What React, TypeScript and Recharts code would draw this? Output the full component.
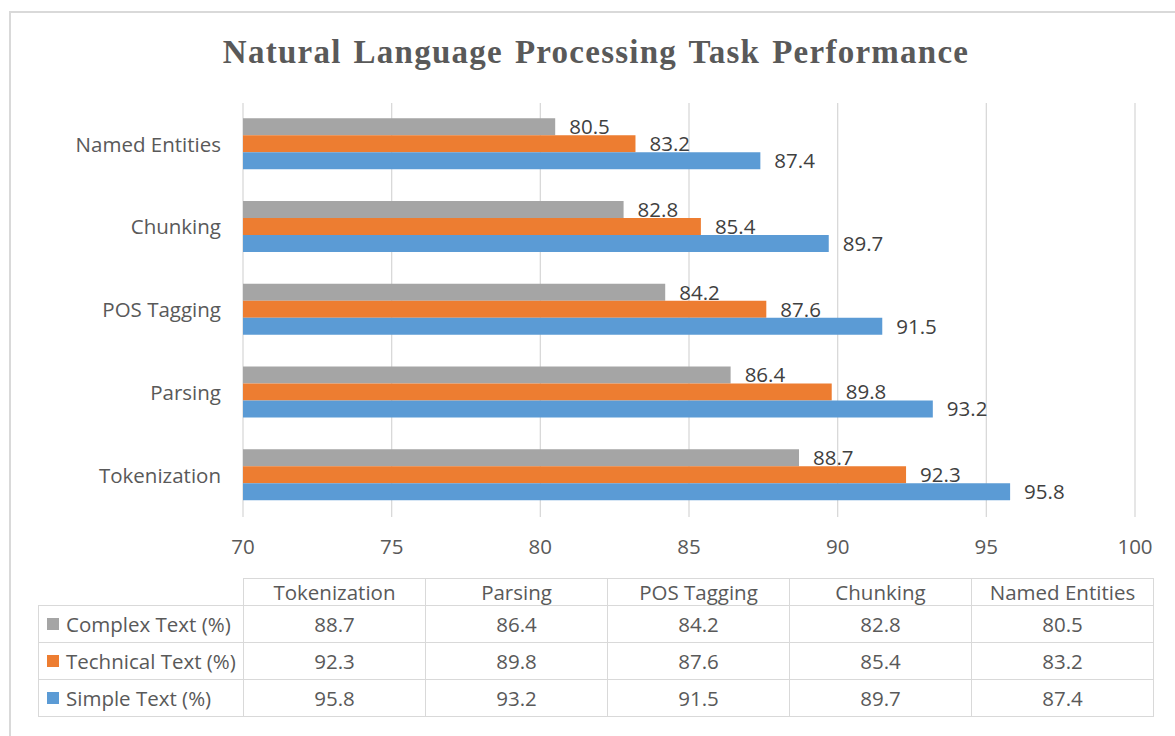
import React from 'react';
import { BarChart, Bar, XAxis, YAxis, CartesianGrid, LabelList } from 'recharts';

const tasks = ['Tokenization', 'Parsing', 'POS Tagging', 'Chunking', 'Named Entities'];
const complexText = [88.7, 86.4, 84.2, 82.8, 80.5];
const technicalText = [92.3, 89.8, 87.6, 85.4, 83.2];
const simpleText = [95.8, 93.2, 91.5, 89.7, 87.4];
const xTicks = [70, 75, 80, 85, 90, 95, 100];

const seriesList = [
  { key: 'complex', name: 'Complex Text (%)', color: '#A5A5A5', values: complexText },
  { key: 'technical', name: 'Technical Text (%)', color: '#ED7D31', values: technicalText },
  { key: 'simple', name: 'Simple Text (%)', color: '#5B9BD5', values: simpleText },
];

const data = tasks.map((task, i) => ({
  task,
  complex: complexText[i],
  technical: technicalText[i],
  simple: simpleText[i],
}));

const FONT = '"Open Sans", sans-serif';
const TEXT = '#595959';
const LINE = '#D9D9D9';

// table geometry
const TABLE_LEFT = 38;
const COL_START = 243;
const COL_W = 182;
const HEADER_TOP = 578;
const HEADER_H = 27;
const ROW_H = 37;

const cellStyle = (left: number, top: number, width: number, height: number): React.CSSProperties => ({
  position: 'absolute',
  left,
  top,
  width: width + 1,
  height: height + 1,
  border: `1px solid ${LINE}`,
  boxSizing: 'border-box',
  display: 'flex',
  alignItems: 'center',
  justifyContent: 'center',
  fontFamily: FONT,
  fontSize: 20.5,
  color: TEXT,
});

const DataTable: React.FC = () => (
  <>
    {tasks.map((t, i) => (
      <div key={`h-${t}`} style={cellStyle(COL_START + COL_W * i, HEADER_TOP, COL_W, HEADER_H)}>
        {t}
      </div>
    ))}
    {seriesList.map((s, r) => {
      const top = HEADER_TOP + HEADER_H + ROW_H * r;
      return (
        <React.Fragment key={s.key}>
          <div
            style={{
              ...cellStyle(TABLE_LEFT, top, COL_START - TABLE_LEFT, ROW_H),
              justifyContent: 'flex-start',
              paddingLeft: 8,
            }}
          >
            <span style={{ display: 'inline-block', width: 12, height: 12, background: s.color, marginRight: 7 }} />
            {s.name}
          </div>
          {s.values.map((v, i) => (
            <div key={`${s.key}-${i}`} style={cellStyle(COL_START + COL_W * i, top, COL_W, ROW_H)}>
              {v}
            </div>
          ))}
        </React.Fragment>
      );
    })}
  </>
);

const App: React.FC = () => {
  return (
    <div style={{ position: 'absolute', left: 0, top: 0, width: 1175, height: 736, background: '#fff' }}>
      <div
        style={{
          position: 'absolute',
          left: 9,
          top: 11,
          width: 1175,
          height: 740,
          border: `2px solid ${LINE}`,
          boxSizing: 'border-box',
        }}
      />
      <div
        style={{
          position: 'absolute',
          left: 0,
          top: 36,
          width: 1192,
          textAlign: 'center',
          fontFamily: '"Liberation Serif", serif',
          fontWeight: 'bold',
          fontSize: 33,
          lineHeight: '33px',
          letterSpacing: 1.25,
          wordSpacing: 2.5,
          color: TEXT,
        }}
      >
        Natural Language Processing Task Performance
      </div>
      <div style={{ position: 'absolute', left: 0, top: 0 }}>
        <BarChart
          width={1175}
          height={580}
          data={data}
          layout="vertical"
          margin={{ top: 103, right: 40, bottom: 0, left: 0 }}
          barCategoryGap="18.3%"
          barGap={0}
        >
          <CartesianGrid horizontal={false} stroke={LINE} strokeWidth={1.3} />
          <XAxis
            type="number"
            domain={[70, 100]}
            ticks={xTicks}
            axisLine={false}
            tickLine={false}
            tickMargin={16}
            height={63}
            tick={{ fill: TEXT, fontSize: 20.5, fontFamily: FONT }}
          />
          <YAxis
            type="category"
            dataKey="task"
            reversed
            width={243}
            axisLine={false}
            tickLine={false}
            tickMargin={16}
            tick={{ fill: TEXT, fontSize: 20.5, fontFamily: FONT }}
          />
          {seriesList.map((s) => (
            <Bar key={s.key} dataKey={s.key} name={s.name} fill={s.color} isAnimationActive={false}>
              <LabelList
                dataKey={s.key}
                position="right"
                offset={14}
                fill="#404040"
                fontSize={20.5}
                fontFamily={FONT}
              />
            </Bar>
          ))}
        </BarChart>
      </div>
      <DataTable />
    </div>
  );
};

export default App;
